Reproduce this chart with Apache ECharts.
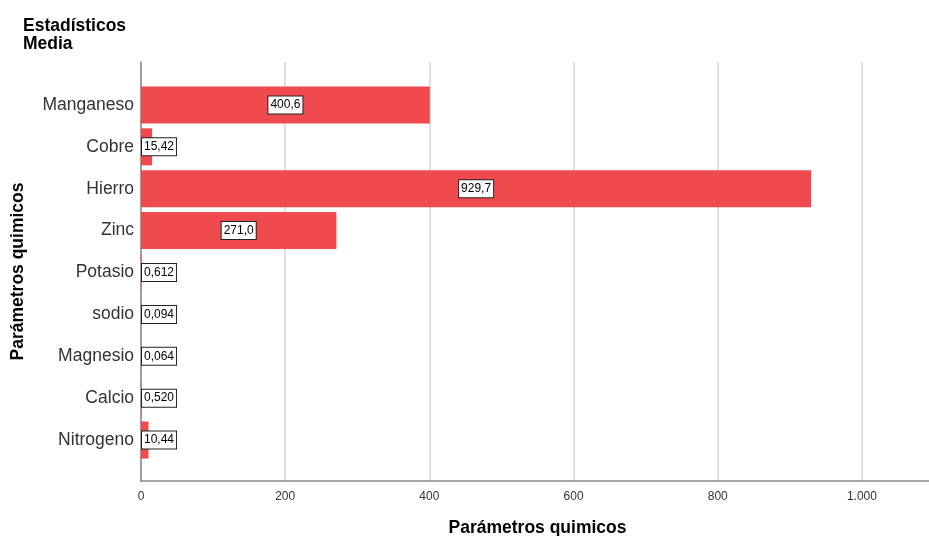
<!DOCTYPE html>
<html>
<head>
<meta charset="utf-8">
<script src="https://cdn.jsdelivr.net/npm/echarts@6/dist/echarts.min.js"></script>
<style>html,body{margin:0;padding:0;background:#fff}#c{width:929px;height:536px}</style>
</head>
<body>
<div id="c"></div>
<script>
const categories = ['Manganeso','Cobre','Hierro','Zinc','Potasio','sodio','Magnesio','Calcio','Nitrogeno'];
const values = [400.6, 15.42, 929.7, 271.0, 0.612, 0.094, 0.064, 0.520, 10.44];
const valueLabels = ['400,6','15,42','929,7','271,0','0,612','0,094','0,064','0,520','10,44'];
const xTicks = [0, 200, 400, 600, 800, 1000];

const FONT = 'Liberation Sans, Arial, sans-serif';
const NARROW = 'Liberation Sans Narrow, Liberation Sans, Arial, sans-serif';
const chart = echarts.init(document.getElementById('c'));

const labelBase = {
  show: true, color: '#000', fontSize: 12, fontFamily: FONT,
  backgroundColor: '#fff', borderColor: '#222', borderWidth: 1,
  padding: [3, 2, 2, 2]
};

const data = values.map((v, i) => {
  const big = v > 100;
  return {
    value: v,
    label: Object.assign({}, labelBase, {
      position: big ? 'inside' : 'insideLeft',
      distance: 1,
      formatter: () => valueLabels[i]
    })
  };
});

const fmt = v => xTicks.indexOf(v) >= 0 ? (v >= 1000 ? (v/1000).toFixed(0) + '.' + String(v % 1000).padStart(3,'0') : String(v)) : '';

chart.setOption({
  animation: false,
  title: {
    text: 'Estadísticos\nMedia', left: 23, top: 17, padding: 0,
    textStyle: { fontSize: 17.5, fontWeight: 'bold', color: '#000', fontFamily: FONT, lineHeight: 18 }
  },
  grid: [
    { left: 141, top: 62, width: 793, bottom: 55, outerBoundsMode: 'none', containLabel: false },
    { left: 141, top: 84, width: 793, bottom: 75, outerBoundsMode: 'none', containLabel: false }
  ],
  xAxis: [
    {
      gridIndex: 0, type: 'value', min: 0, max: 1100, interval: 200,
      axisLine: { show: true, lineStyle: { color: '#8a8a8a', width: 1.5 } },
      axisTick: { show: false },
      splitLine: { show: true, lineStyle: { color: '#d3d3d3', width: 1.5 } },
      axisLabel: { color: '#333', fontSize: 12, fontFamily: NARROW, margin: 10, formatter: fmt, showMaxLabel: false },
      name: 'Parámetros quimicos', nameLocation: 'middle', nameGap: 38,
      nameTextStyle: { fontSize: 17.5, fontWeight: 'bold', color: '#000', fontFamily: FONT }
    },
    {
      gridIndex: 1, type: 'value', min: 0, max: 1100, show: false
    }
  ],
  yAxis: [
    {
      gridIndex: 0, type: 'value', min: 0, max: 1,
      axisLine: { show: true, lineStyle: { color: '#8a8a8a', width: 1.5 } },
      axisTick: { show: false }, axisLabel: { show: false }, splitLine: { show: false },
      name: 'Parámetros quimicos', nameLocation: 'middle', nameGap: 114, nameRotate: 90,
      nameTextStyle: { fontSize: 17.5, fontWeight: 'bold', color: '#000', fontFamily: FONT }
    },
    {
      gridIndex: 1, type: 'category', data: categories, inverse: true,
      axisLine: { show: false }, axisTick: { show: false },
      axisLabel: { color: '#333', fontSize: 17.5, fontFamily: FONT, margin: 7 }
    }
  ],
  series: [{
    type: 'bar', xAxisIndex: 1, yAxisIndex: 1,
    data: data, barWidth: 37,
    itemStyle: { color: '#EF4B4E' }
  }]
});
</script>
</body>
</html>
